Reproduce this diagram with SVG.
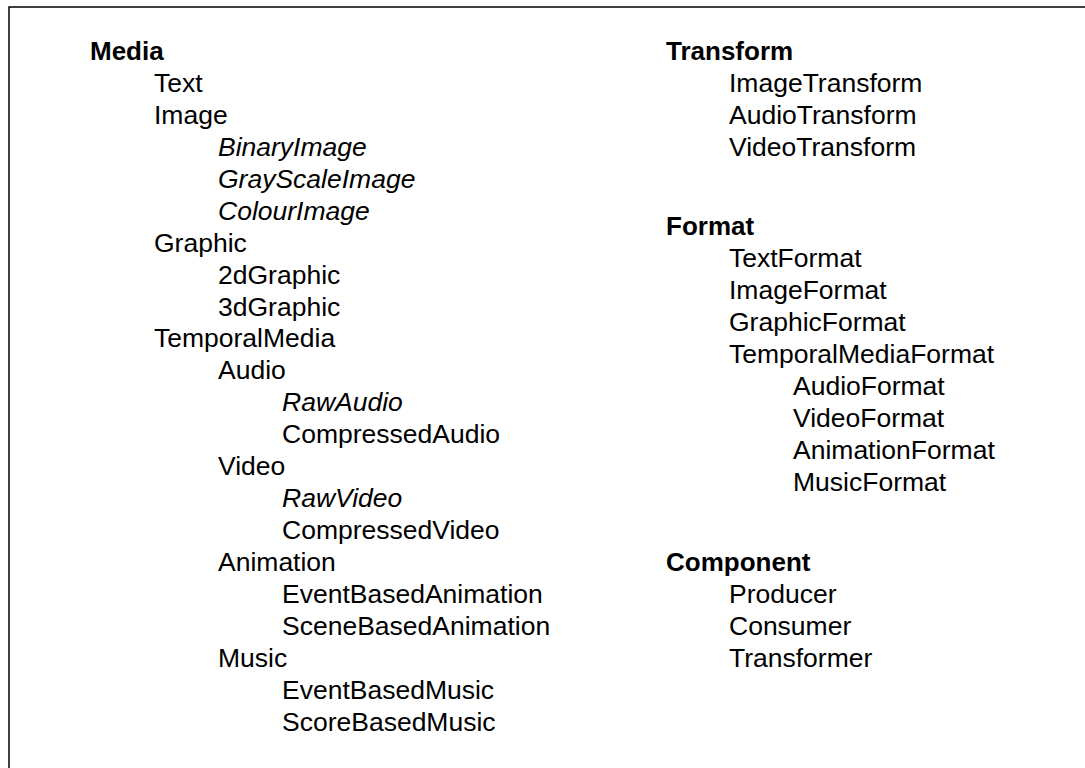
<svg xmlns="http://www.w3.org/2000/svg" width="1085" height="768" viewBox="0 0 1085 768">
<style>
text{font-family:"Liberation Sans",Arial,sans-serif;font-size:26.5px;fill:#000}
.h{font-weight:bold;font-size:26px}
.i{font-style:italic}
</style>
<rect width="1085" height="768" fill="#fff"/>
<path d="M9,768 V7 H1085" fill="none" stroke="#000" stroke-width="1.5"/>
<g id="media">
<text class="h" x="90" y="60">Media</text>
<text x="154" y="92">Text</text>
<text x="154" y="124">Image</text>
<text class="i" x="218" y="156">BinaryImage</text>
<text class="i" x="218" y="188">GrayScaleImage</text>
<text class="i" x="218" y="220">ColourImage</text>
<text x="154" y="252">Graphic</text>
<text x="218" y="284">2dGraphic</text>
<text x="218" y="316">3dGraphic</text>
<text x="154" y="347">TemporalMedia</text>
<text x="218" y="379">Audio</text>
<text class="i" x="282" y="411">RawAudio</text>
<text x="282" y="443">CompressedAudio</text>
<text x="218" y="475">Video</text>
<text class="i" x="282" y="507">RawVideo</text>
<text x="282" y="539">CompressedVideo</text>
<text x="218" y="571">Animation</text>
<text x="282" y="603">EventBasedAnimation</text>
<text x="282" y="635">SceneBasedAnimation</text>
<text x="218" y="667">Music</text>
<text x="282" y="699">EventBasedMusic</text>
<text x="282" y="731">ScoreBasedMusic</text>
</g>
<g id="transform">
<text class="h" x="666" y="60">Transform</text>
<text x="729" y="92">ImageTransform</text>
<text x="729" y="124">AudioTransform</text>
<text x="729" y="156">VideoTransform</text>
</g>
<g id="format">
<text class="h" x="666" y="235">Format</text>
<text x="729" y="267">TextFormat</text>
<text x="729" y="299">ImageFormat</text>
<text x="729" y="331">GraphicFormat</text>
<text x="729" y="363">TemporalMediaFormat</text>
<text x="793" y="395">AudioFormat</text>
<text x="793" y="427">VideoFormat</text>
<text x="793" y="459">AnimationFormat</text>
<text x="793" y="491">MusicFormat</text>
</g>
<g id="component">
<text class="h" x="666" y="571">Component</text>
<text x="729" y="603">Producer</text>
<text x="729" y="635">Consumer</text>
<text x="729" y="667">Transformer</text>
</g>
<g id="connectors"/>
</svg>
